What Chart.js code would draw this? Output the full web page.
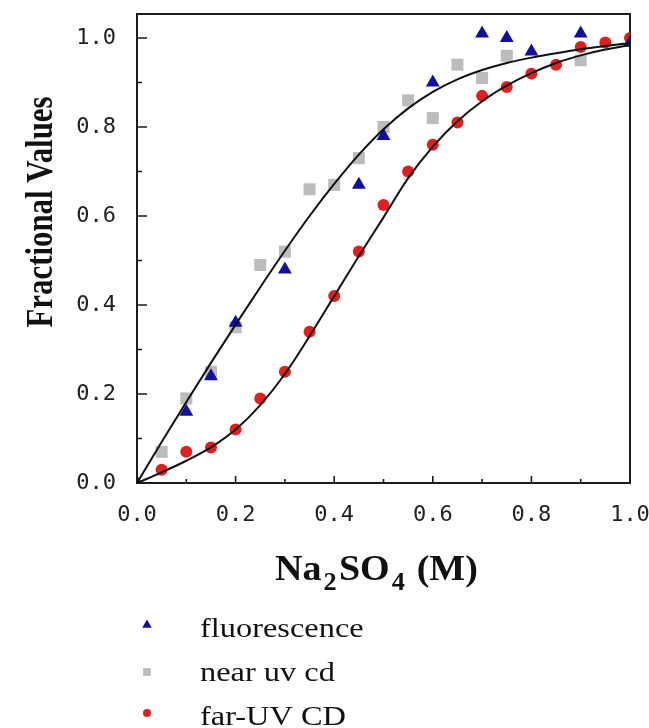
<!DOCTYPE html>
<html>
<head>
<meta charset="utf-8">
<script src="https://cdn.jsdelivr.net/npm/chart.js@4.4.1/dist/chart.umd.min.js"></script>
<style>
  html, body { margin: 0; padding: 0; background: #ffffff; }
  #wrap { width: 649px; height: 728px; position: relative; }
</style>
</head>
<body>
<div id="wrap"><canvas id="c" width="649" height="728"></canvas></div>
<script>
// Na2SO4 concentration (M) and fractional signal for each probe
const concFluor = [0, 0.1, 0.15, 0.2, 0.3, 0.45, 0.5, 0.6, 0.7, 0.75, 0.8, 0.9, 1.0];
const fluorescence = [0, 0.16, 0.24, 0.36, 0.48, 0.67, 0.78, 0.90, 1.01, 1.00, 0.97, 1.01, 0.99];

const concNear = [0.05, 0.1, 0.15, 0.2, 0.25, 0.3, 0.35, 0.4, 0.45, 0.5, 0.55, 0.6, 0.65, 0.7, 0.75, 0.9];
const nearUvCd = [0.07, 0.19, 0.25, 0.35, 0.49, 0.52, 0.66, 0.67, 0.73, 0.80, 0.86, 0.82, 0.94, 0.91, 0.96, 0.95];

const concFar = [0.05, 0.1, 0.15, 0.2, 0.25, 0.3, 0.35, 0.4, 0.45, 0.5, 0.55, 0.6, 0.65, 0.7, 0.75, 0.8, 0.85, 0.9, 0.95, 1.0];
const farUvCd = [0.03, 0.07, 0.08, 0.12, 0.19, 0.25, 0.34, 0.42, 0.52, 0.625, 0.70, 0.76, 0.81, 0.87, 0.89, 0.92, 0.94, 0.98, 0.99, 1.0];

// fitted transition curves
const concFit = [0, 0.05, 0.1, 0.15, 0.2, 0.25, 0.3, 0.35, 0.4, 0.45, 0.5, 0.55, 0.6, 0.65, 0.7, 0.75, 0.8, 0.85, 0.9, 0.95, 1.0];
const fitTertiary = [0, 0.092, 0.182, 0.27, 0.356, 0.44, 0.522, 0.6, 0.672, 0.738, 0.795, 0.842, 0.879, 0.907, 0.928, 0.944, 0.956, 0.966, 0.975, 0.982, 0.989];
const fitSecondary = [0, 0.024, 0.05, 0.08, 0.12, 0.175, 0.245, 0.33, 0.42, 0.51, 0.597, 0.685, 0.756, 0.813, 0.858, 0.893, 0.921, 0.944, 0.961, 0.974, 0.984];

// axis ticks
const majorTicks = [0, 0.2, 0.4, 0.6, 0.8, 1.0];
const minorTicks = [0.1, 0.3, 0.5, 0.7, 0.9];

const legendLabels = ['fluorescence', 'near uv cd', 'far-UV CD'];
const xTitleParts = [['Na', false], ['2', true], ['SO', false], ['4', true], [' (M)', false]];
const yTitle = 'Fractional Values';

const pts = (xs, ys) => xs.map((x, i) => ({ x: x, y: ys[i] }));

// plot frame and inward tick marks
const frameAndTicks = {
  id: 'frameAndTicks',
  beforeDatasetsDraw(chart) {
    const { ctx, chartArea: a, scales: { x, y } } = chart;
    ctx.save();
    ctx.strokeStyle = '#1c1c1c';
    ctx.lineWidth = 2;
    ctx.strokeRect(a.left, a.top, a.right - a.left, a.bottom - a.top);
    ctx.lineWidth = 1.6;
    ctx.beginPath();
    const mark = (v, yLen, xLen) => {
      const py = y.getPixelForValue(v);
      ctx.moveTo(a.left, py); ctx.lineTo(a.left + yLen, py);
      const px = x.getPixelForValue(v);
      ctx.moveTo(px, a.bottom); ctx.lineTo(px, a.bottom - xLen);
    };
    majorTicks.forEach(v => mark(v, 10, 7));
    minorTicks.forEach(v => mark(v, 5, 4));
    ctx.stroke();
    ctx.restore();
  }
};

// axis titles (with subscripts) and the legend below the plot
const titlesAndLegend = {
  id: 'titlesAndLegend',
  afterDraw(chart) {
    const ctx = chart.ctx;
    ctx.save();
    ctx.fillStyle = '#111111';

    // vertical title
    ctx.save();
    ctx.font = 'bold 31px "Liberation Serif"';
    const yw = ctx.measureText(yTitle).width;
    ctx.translate(52, 212);
    ctx.rotate(-Math.PI / 2);
    ctx.scale(231 / yw, 1.2);
    ctx.textAlign = 'center';
    ctx.textBaseline = 'alphabetic';
    ctx.fillText(yTitle, 0, 0);
    ctx.restore();

    // horizontal title
    ctx.save();
    const mainFont = 'bold 36px "Liberation Serif"';
    const subFont = 'bold 25px "Liberation Serif"';
    let total = 0;
    const widths = xTitleParts.map(([t, sub]) => {
      ctx.font = sub ? subFont : mainFont;
      const w = ctx.measureText(t).width + 2;
      total += w;
      return w;
    });
    ctx.translate(275, 580);
    ctx.scale(205 / total, 1);
    ctx.textBaseline = 'alphabetic';
    ctx.textAlign = 'left';
    let cx = 0;
    xTitleParts.forEach(([t, sub], i) => {
      ctx.font = sub ? subFont : mainFont;
      ctx.fillText(t, cx, sub ? 10 : 0);
      cx += widths[i];
    });
    ctx.restore();

    // legend
    const baselines = [637, 681, 725];
    const markerY = [625, 672, 713];
    const markerR = [5.5, 5.5, 4];
    chart.data.datasets.slice(0, 3).forEach((ds, i) => {
      ctx.save();
      ctx.fillStyle = ds.backgroundColor;
      ctx.strokeStyle = ds.borderColor;
      ctx.lineWidth = 0;
      Chart.helpers.drawPoint(ctx, { pointStyle: ds.pointStyle, radius: markerR[i], borderWidth: 0, rotation: 0 }, 147, markerY[i]);
      ctx.restore();
      ctx.save();
      ctx.fillStyle = '#111111';
      ctx.font = '27px "Liberation Serif"';
      ctx.textBaseline = 'alphabetic';
      ctx.translate(200, baselines[i]);
      ctx.scale(1.2, 1);
      ctx.fillText(legendLabels[i], 0, 0);
      ctx.restore();
    });
    ctx.restore();
  }
};

const tickFont = { family: '"DejaVu Sans Mono", monospace', size: 22 };

new Chart(document.getElementById('c'), {
  type: 'scatter',
  data: {
    datasets: [
      {
        label: legendLabels[0],
        data: pts(concFluor, fluorescence),
        pointStyle: 'triangle',
        pointRadius: 8,
        backgroundColor: '#10109e',
        borderColor: '#10109e',
        borderWidth: 0,
        order: 1
      },
      {
        label: legendLabels[1],
        data: pts(concNear, nearUvCd),
        pointStyle: 'rect',
        pointRadius: 8.5,
        backgroundColor: '#bcbcbc',
        borderColor: '#bcbcbc',
        borderWidth: 0,
        order: 3
      },
      {
        label: legendLabels[2],
        data: pts(concFar, farUvCd),
        pointStyle: 'circle',
        pointRadius: 6,
        backgroundColor: '#e0201e',
        borderColor: '#e0201e',
        borderWidth: 0,
        order: 2
      },
      {
        label: 'fit 1',
        data: pts(concFit, fitTertiary),
        showLine: true,
        pointRadius: 0,
        borderColor: '#111111',
        borderWidth: 2,
        cubicInterpolationMode: 'monotone',
        order: 0
      },
      {
        label: 'fit 2',
        data: pts(concFit, fitSecondary),
        showLine: true,
        pointRadius: 0,
        borderColor: '#111111',
        borderWidth: 2,
        cubicInterpolationMode: 'monotone',
        order: 0
      }
    ]
  },
  options: {
    responsive: false,
    animation: false,
    devicePixelRatio: 1,
    layout: { padding: { left: 0, right: 19, top: 14, bottom: 0 } },
    plugins: { legend: { display: false }, tooltip: { enabled: false } },
    scales: {
      x: {
        type: 'linear',
        min: 0,
        max: 1,
        grid: { display: false },
        border: { display: false },
        ticks: {
          stepSize: 0.2,
          includeBounds: false,
          padding: 11,
          color: '#222222',
          font: tickFont,
          maxRotation: 0,
          callback: v => v.toFixed(1)
        },
        afterFit: s => { s.height = 245; s.paddingLeft = 0; s.paddingRight = 0; }
      },
      y: {
        type: 'linear',
        min: 0,
        max: 1.054,
        grid: { display: false },
        border: { display: false },
        ticks: {
          stepSize: 0.2,
          includeBounds: false,
          padding: 13,
          color: '#222222',
          font: tickFont,
          callback: v => v.toFixed(1)
        },
        afterFit: s => { s.width = 137; s.paddingTop = 0; s.paddingBottom = 0; }
      }
    }
  },
  plugins: [frameAndTicks, titlesAndLegend]
});
</script>
</body>
</html>
